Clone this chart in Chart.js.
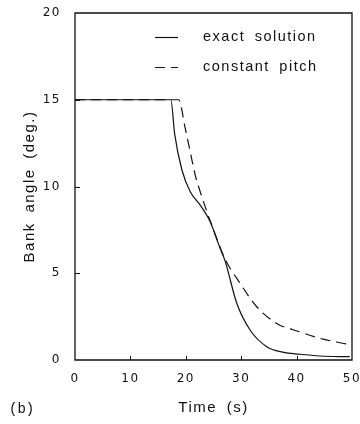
<!DOCTYPE html>
<html>
<head>
<meta charset="utf-8">
<script src="https://cdn.jsdelivr.net/npm/chart.js@4/dist/chart.umd.min.js"></script>
<style>
  html, body { margin: 0; padding: 0; background: #fff; }
  #wrap { width: 360px; height: 424px; position: relative; }
</style>
</head>
<body>
<div id="wrap"><canvas id="c" width="360" height="424"></canvas></div>
<script>
// ---- data ----
const seriesLabels = ['exact solution', 'constant pitch'];

const exactTime  = [0, 17.3, 18.0, 19.3, 20.8, 22.6, 24.4, 26.0, 27.1, 29.2, 31.6, 34.6, 37.5, 40.6, 44.2, 49.6];
const exactAngle = [15, 15, 13.0, 10.95, 9.7, 8.93, 7.97, 6.6, 5.7, 3.27, 1.73, 0.77, 0.45, 0.33, 0.23, 0.19];

const pitchTime  = [0, 18.7, 19.9, 20.8, 21.7, 22.6, 23.8, 24.6, 26.0, 27.1, 29.8, 32.8, 36.4, 40.6, 44.2, 49.0];
const pitchAngle = [15, 15, 13.35, 12.0, 10.66, 9.7, 8.55, 7.85, 6.65, 5.8, 4.42, 3.07, 2.11, 1.62, 1.25, 0.92];

const xTicks = [0, 10, 20, 30, 40, 50];
const yTicks = [0, 5, 10, 15, 20];

const xTitle = 'Time (s)';
const yTitle = 'Bank angle (deg.)';
const panelLabel = '(b)';

// ---- chart ----
const INK = '#111';
const toPoints = (xs, ys) => xs.map((x, i) => ({ x: x, y: ys[i] }));

const textSpacing = {
  id: 'textSpacing',
  beforeDraw(chart) {
    chart.ctx.letterSpacing = '1.5px';
    chart.ctx.wordSpacing = '4px';
  }
};

const frameAndTicks = {
  id: 'frameAndTicks',
  afterDraw(chart) {
    const ctx = chart.ctx;
    const a = chart.chartArea;
    const xs = chart.scales.x, ys = chart.scales.y;
    ctx.save();
    ctx.setLineDash([]);
    ctx.strokeStyle = INK;
    ctx.lineWidth = 1.3;
    ctx.beginPath();
    ctx.moveTo(a.left, a.top);
    ctx.lineTo(a.right, a.top);
    ctx.lineTo(a.right, a.bottom);
    ctx.lineTo(a.left, a.bottom);
    ctx.closePath();
    ctx.stroke();
    ctx.lineWidth = 1;
    xs.ticks.forEach(t => {
      if (t.value <= xs.min || t.value >= xs.max) return;
      const px = Math.round(xs.getPixelForValue(t.value)) + 0.5;
      ctx.beginPath(); ctx.moveTo(px, a.bottom); ctx.lineTo(px, a.bottom - 4); ctx.stroke();
    });
    ys.ticks.forEach(t => {
      if (t.value <= ys.min || t.value >= ys.max) return;
      const py = Math.round(ys.getPixelForValue(t.value)) + 0.5;
      ctx.beginPath(); ctx.moveTo(a.left, py); ctx.lineTo(a.left + 5, py); ctx.stroke();
    });

    // legend
    ctx.font = '14.5px "Liberation Sans", Arial, sans-serif';
    ctx.fillStyle = INK;
    ctx.textBaseline = 'middle';
    ctx.textAlign = 'left';
    const rows = [37, 67];
    chart.data.datasets.forEach((ds, i) => {
      const y = rows[i] + 0.5;
      ctx.lineWidth = ds.borderWidth;
      ctx.setLineDash(ds.borderDash || []);
      ctx.beginPath(); ctx.moveTo(155, y); ctx.lineTo(178, y); ctx.stroke();
      ctx.setLineDash([]);
      ctx.fillText(ds.label, 203, rows[i]);
    });

    // panel label
    ctx.letterSpacing = '0px';
    ctx.font = '14px "Liberation Mono", "Courier New", monospace';
    ctx.fillText(panelLabel, 9, 409);
    ctx.restore();
  }
};

new Chart(document.getElementById('c'), {
  type: 'line',
  data: {
    datasets: [
      {
        label: seriesLabels[0],
        data: toPoints(exactTime, exactAngle),
        borderColor: INK, borderWidth: 1.2,
        pointRadius: 0, fill: false,
        cubicInterpolationMode: 'monotone'
      },
      {
        label: seriesLabels[1],
        data: toPoints(pitchTime, pitchAngle),
        borderColor: INK, borderWidth: 1.2, borderDash: [10, 6],
        pointRadius: 0, fill: false,
        cubicInterpolationMode: 'monotone'
      }
    ]
  },
  options: {
    responsive: false,
    animation: false,
    devicePixelRatio: 1,
    layout: { padding: { top: 13, right: 8, left: 0, bottom: 0 } },
    plugins: { legend: { display: false }, tooltip: { enabled: false } },
    scales: {
      x: {
        type: 'linear', min: xTicks[0], max: xTicks[xTicks.length - 1],
        afterBuildTicks: s => { s.ticks = xTicks.map(v => ({ value: v })); },
        grid: { display: false },
        border: { display: false },
        ticks: { color: INK, padding: 4, maxRotation: 0,
                 font: { family: '"DejaVu Sans", sans-serif', size: 12 } },
        title: { display: true, text: xTitle, color: INK,
                 padding: { top: 0, bottom: 7 },
                 font: { family: '"Liberation Sans", Arial, sans-serif', size: 15 } },
        afterFit: s => { s.height = 64; s.paddingLeft = 0; s.paddingRight = 0; }
      },
      y: {
        type: 'linear', min: yTicks[0], max: yTicks[yTicks.length - 1],
        afterBuildTicks: s => { s.ticks = yTicks.map(v => ({ value: v })); },
        grid: { display: false },
        border: { display: false },
        ticks: { color: INK, padding: 6,
                 font: { family: '"DejaVu Sans", sans-serif', size: 12 } },
        title: { display: true, text: yTitle, color: INK,
                 padding: { top: 21, bottom: 0 },
                 font: { family: '"Liberation Sans", Arial, sans-serif', size: 15 } },
        afterFit: s => { s.width = 75; s.paddingTop = 0; s.paddingBottom = 0; }
      }
    }
  },
  plugins: [textSpacing, frameAndTicks]
});
</script>
</body>
</html>
